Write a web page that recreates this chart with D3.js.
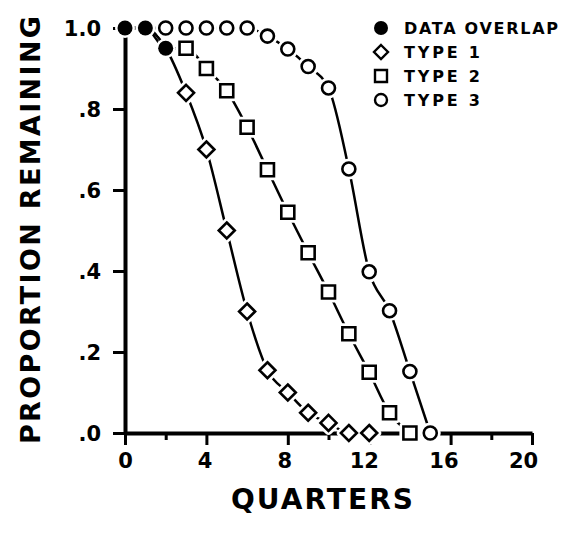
<!DOCTYPE html>
<html><head><meta charset="utf-8">
<script src="https://cdn.jsdelivr.net/npm/d3@7"></script>
<style>
html,body{margin:0;padding:0;background:#fff;}
svg{display:block;}
text{font-family:"DejaVu Sans",sans-serif;font-weight:bold;fill:#000;}
</style></head>
<body>
<svg id="chart" width="576" height="535"></svg>
<script>
// ---- data ----
const type1X = [0,1,2,3,4,5,6,7,8,9,10,11,12];
const type1Y = [1,1,0.95,0.84,0.70,0.50,0.30,0.155,0.10,0.05,0.025,0,0];
const type2X = [0,1,2,3,4,5,6,7,8,9,10,11,12,13,14];
const type2Y = [1,1,0.95,0.95,0.90,0.845,0.755,0.65,0.545,0.445,0.348,0.245,0.15,0.05,0];
const type3X = [0,1,2,3,4,5,6,7,8,9,10,11,12,13,14,15];
const type3Y = [1,1,1,1,1,1,1,0.98,0.948,0.905,0.852,0.652,0.398,0.302,0.152,0];
const overlapX = [0,1,2];
const overlapY = [1,1,0.95];
const xMajorTicks = [0,4,8,12,16,20];
const xMinorTicks = [2,10,18];
const yTicks = [0,0.2,0.4,0.6,0.8,1.0];
const yTickLabels = [".0",".2",".4",".6",".8","1.0"];
const legendLabels = ["DATA OVERLAP","TYPE 1","TYPE 2","TYPE 3"];
const legendShapes = ["filled","diamond","square","circle"];

// ---- layout ----
const svg = d3.select("#chart");
const x = d3.scaleLinear().domain([0,20]).range([125,532]);
const y = d3.scaleLinear().domain([0,1]).range([433,28]);

// axes
const yAxis = d3.axisLeft(y).tickValues(yTicks)
  .tickFormat((d,i)=>yTickLabels[i]).tickSize(12).tickSizeOuter(0).tickPadding(12);
const gy = svg.append("g").attr("transform",`translate(${x(0)},0)`).call(yAxis);
gy.select(".domain").attr("stroke","#000").attr("stroke-width",4);
gy.selectAll(".tick line").attr("stroke","#000").attr("stroke-width",3);
gy.selectAll(".tick text").style("font-size","21px").attr("dy","0.36em");

const xAxis = d3.axisBottom(x).tickValues(xMajorTicks).tickSize(12).tickSizeOuter(0).tickPadding(8);
const gx = svg.append("g").attr("transform",`translate(0,${y(0)})`).call(xAxis);
gx.select(".domain").attr("stroke","#000").attr("stroke-width",4);
gx.selectAll(".tick line").attr("stroke","#000").attr("stroke-width",3);
gx.selectAll(".tick text").style("font-size","21px").attr("dx",d=>-d*0.45);

const xMinor = d3.axisBottom(x).tickValues(xMinorTicks).tickSize(7).tickFormat("");
const gxm = svg.append("g").attr("transform",`translate(0,${y(0)})`).call(xMinor);
gxm.select(".domain").remove();
gxm.selectAll(".tick line").attr("stroke","#000").attr("stroke-width",3);

// axis titles
svg.append("text").attr("x",322).attr("y",509).attr("text-anchor","middle")
  .style("font-size","28px").attr("textLength",182).attr("lengthAdjust","spacing").text("QUARTERS");
svg.append("text").attr("transform","translate(40,230) rotate(-90)").attr("text-anchor","middle")
  .style("font-size","27px").attr("textLength",428).attr("lengthAdjust","spacing").text("PROPORTION REMAINING");

// curves
const line = d3.line().x(d=>x(d[0])).y(d=>y(d[1])).curve(d3.curveMonotoneX);
const series = [
  {xs:type1X, ys:type1Y, shape:"diamond", start:3},
  {xs:type2X, ys:type2Y, shape:"square", start:3},
  {xs:type3X, ys:type3Y, shape:"circle", start:2}
];
series.forEach(s=>{
  const pts = s.xs.map((v,i)=>[v,s.ys[i]]);
  svg.append("path").attr("d",line(pts)).attr("fill","none").attr("stroke","#000").attr("stroke-width",2.5);
});

// marker generator
function shapePath(shape){
  if(shape==="diamond") return "M0,-8L8,0L0,8L-8,0Z";
  if(shape==="square") return "M-6.5,-6.5H6.5V6.5H-6.5Z";
  return d3.arc()({innerRadius:0,outerRadius:6.5,startAngle:0,endAngle:2*Math.PI});
}
const marks = [];
series.forEach(s=>{
  s.xs.forEach((v,i)=>{ if(i>=s.start) marks.push({x:v,y:s.ys[i],shape:s.shape}); });
});
overlapX.forEach((v,i)=>marks.push({x:v,y:overlapY[i],shape:"filled"}));

const halo = svg.append("g");
const mk = svg.append("g");
marks.forEach(m=>{
  const tx = `translate(${x(m.x)},${y(m.y)})`;
  if(m.shape==="filled"){
    halo.append("circle").attr("transform",tx).attr("r",10).attr("fill","#fff");
    mk.append("circle").attr("transform",tx).attr("r",7.5).attr("fill","#000");
  } else {
    halo.append("path").attr("transform",tx).attr("d",shapePath(m.shape))
      .attr("fill","#fff").attr("stroke","#fff").attr("stroke-width",8).attr("stroke-linejoin","round");
    mk.append("path").attr("transform",tx).attr("d",shapePath(m.shape))
      .attr("fill","#fff").attr("stroke","#000").attr("stroke-width",2.6);
  }
});

// legend
const lg = svg.append("g");
legendLabels.forEach((lab,i)=>{
  const cy = 28 + i*24;
  const sh = legendShapes[i];
  if(sh==="filled"){
    lg.append("circle").attr("cx",381).attr("cy",cy).attr("r",7).attr("fill","#000");
  } else {
    const p = sh==="diamond" ? "M0,-7L7,0L0,7L-7,0Z" : sh==="square" ? "M-6,-6H6V6H-6Z"
      : d3.arc()({innerRadius:0,outerRadius:6,startAngle:0,endAngle:2*Math.PI});
    lg.append("path").attr("transform",`translate(381,${cy})`).attr("d",p)
      .attr("fill","#fff").attr("stroke","#000").attr("stroke-width",2.4);
  }
  const t = lg.append("text").attr("x",404).attr("y",cy+6).style("font-size","16px")
    .attr("lengthAdjust","spacing").text(lab);
  t.attr("textLength", i===0 ? 154 : 76);
});
</script>
</body></html>
